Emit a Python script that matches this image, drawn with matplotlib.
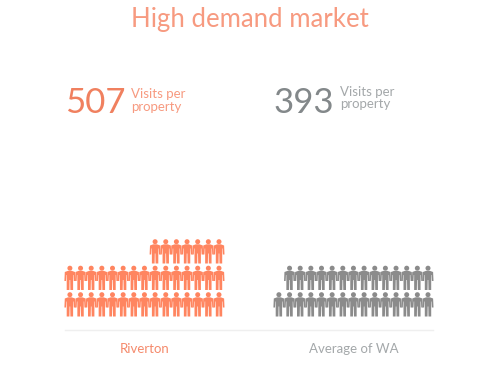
import numpy as np
import matplotlib.pyplot as plt
from matplotlib.patches import Circle, Polygon

title = "High demand market"
names = ["Riverton", "Average of WA"]
visits = [507, 393]
rows_riverton = [15, 15, 7]   # icons per row, bottom row first
rows_average = [15, 14]

orange = '#ff8560'
orange_text = '#f79a80'
grey = '#8b8b8b'
grey_text = '#a4a8aa'

plt.rcParams['font.family'] = ['Lato', 'DejaVu Sans']

fig = plt.figure(figsize=(4.99, 3.66), dpi=100)
ax = fig.add_axes([0, 0, 1, 1])
ax.set_xlim(0, 499)
ax.set_ylim(366, 0)
ax.axis('off')

# outline of one person, x from centre, y from the feet upwards
body = np.array([
    [-1.8, 19.2], [1.8, 19.2], [5.1, 18], [5.5, 9], [3.9, 9], [3.6, 15],
    [3.2, 15], [3.2, 0], [0.5, 0], [0.3, 10], [-0.3, 10], [-0.5, 0], [-3.2, 0],
    [-3.2, 15], [-3.6, 15], [-3.9, 9], [-5.5, 9], [-5.1, 18],
])


def person(x, y, color):
    ax.add_patch(Polygon(np.column_stack([x + body[:, 0], y - body[:, 1]]), color=color, lw=0))
    ax.add_patch(Circle((x, y - 21.8), 2.5, color=color, lw=0))


def people(rows, right, color):
    for i, n in enumerate(rows):
        for j in range(n):
            person(right - j * 10.65, 316.5 - i * 26.5, color)


people(rows_riverton, 219, orange)
people(rows_average, 428, grey)

ax.plot([65, 433], [329.5, 329.5], color='#efefef', lw=1)

ax.text(249.5, 20, title, color=orange_text, fontsize=18.5, ha='center', va='center')

ax.text(65, 113, str(visits[0]), color='#f0805f', fontsize=25, ha='left', va='baseline')
ax.text(131, 98, "Visits per", color=orange_text, fontsize=9.5, ha='left', va='baseline')
ax.text(131, 111, "property", color=orange_text, fontsize=9.5, ha='left', va='baseline')

ax.text(274, 113, str(visits[1]), color='#83888a', fontsize=25, ha='left', va='baseline')
ax.text(340, 96, "Visits per", color=grey_text, fontsize=9.5, ha='left', va='baseline')
ax.text(340, 108, "property", color=grey_text, fontsize=9.5, ha='left', va='baseline')

ax.text(145, 349, names[0], color='#f58a6c', fontsize=9.5, ha='center', va='center')
ax.text(354, 349, names[1], color=grey_text, fontsize=9.5, ha='center', va='center')

fig.savefig('out.png', dpi=100)
